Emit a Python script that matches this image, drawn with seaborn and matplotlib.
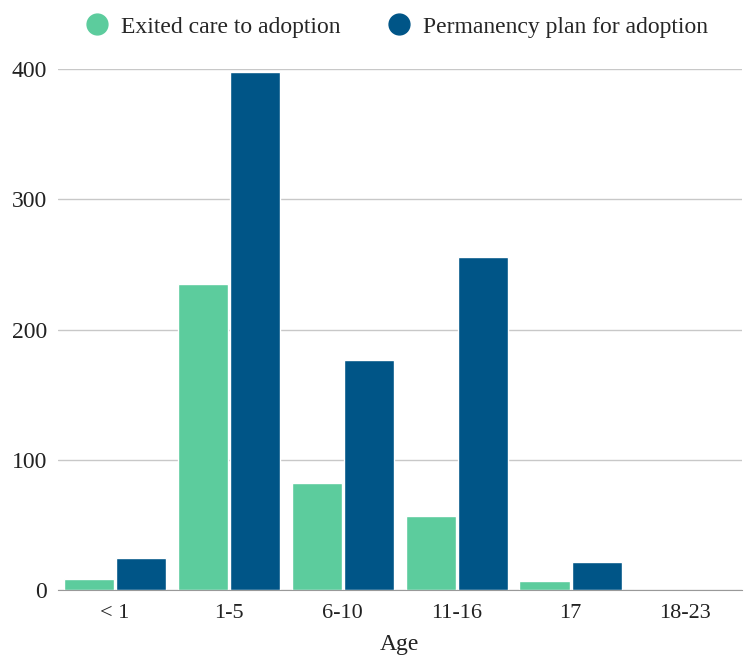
import pandas as pd
import matplotlib.pyplot as plt
import seaborn as sns
from matplotlib.lines import Line2D

# chart data
ages = ['< 1', '1-5', '6-10', '11-16', '17', '18-23']
exited = [9, 235, 82, 57, 7, 0]
permanency = [25, 398, 177, 256, 22, 0]
series = ['Exited care to adoption', 'Permanency plan for adoption']
colors = ['#5ccc9d', '#005587']

df = pd.DataFrame({
    'Age': ages * 2,
    'Count': exited + permanency,
    'Series': [series[0]] * len(ages) + [series[1]] * len(ages),
})

sns.set_style('white')
plt.rcParams['font.family'] = ['Liberation Serif', 'DejaVu Serif']

fig = plt.figure(figsize=(7.48, 6.58), dpi=100)
ax = fig.add_axes([0.0775, 0.103, 0.914, 0.792])

sns.barplot(data=df, x='Age', y='Count', hue='Series', order=ages,
            hue_order=series, palette=colors, width=0.92, gap=0.045,
            saturation=1, ax=ax, legend=False)

ax.set_xlim(-0.5, len(ages) - 0.5)
ax.set_ylim(0, 400)
ax.set_yticks([0, 100, 200, 300, 400])
ax.yaxis.grid(True, color='#c8c8c8', linewidth=1)
ax.set_axisbelow(True)
for side in ['top', 'right', 'left']:
    ax.spines[side].set_visible(False)
ax.spines['bottom'].set_color('#999999')
ax.tick_params(axis='both', length=0, colors='#222222')
ax.tick_params(axis='x', pad=10, labelsize=16)
ax.tick_params(axis='y', pad=8, labelsize=17)
ax.set_xlabel('Age', fontsize=17, color='#222222', labelpad=8)
ax.set_ylabel('')

handles = [Line2D([0], [0], marker='o', linestyle='none', markersize=15,
                  markerfacecolor=c, markeredgecolor=c) for c in colors]
fig.legend(handles, series, loc='upper center', bbox_to_anchor=(0.53, 1.008),
           ncol=2, frameon=False, fontsize=17, handlelength=1.0,
           handletextpad=0.5, columnspacing=2.0)

plt.savefig('out.png', dpi=100)
